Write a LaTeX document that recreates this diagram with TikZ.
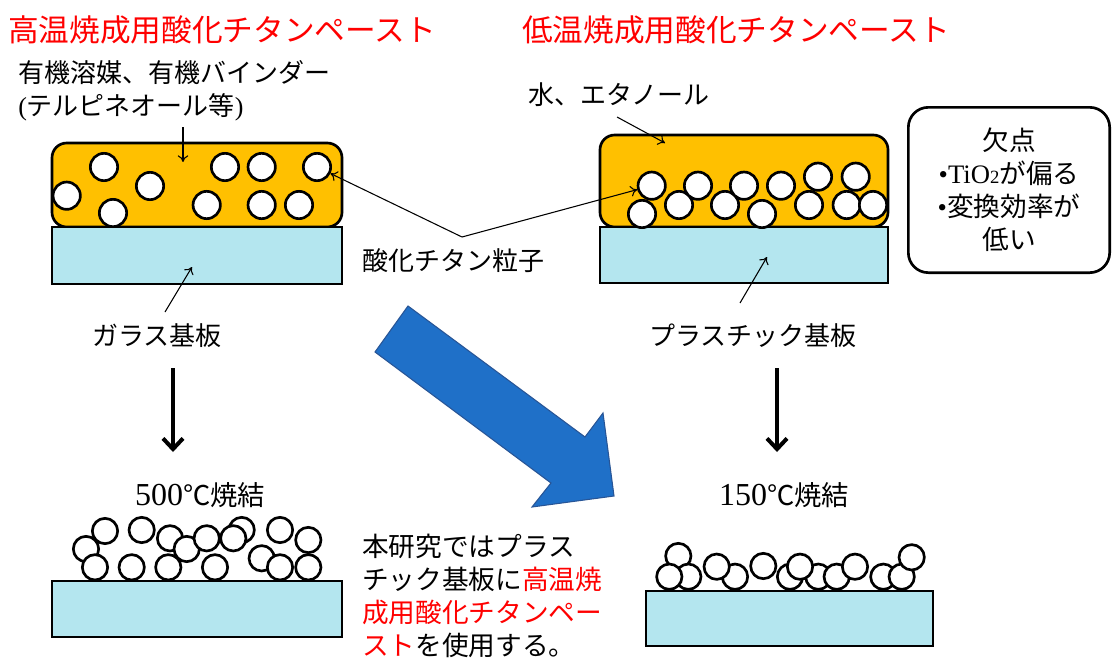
\documentclass[tikz,border=0pt]{standalone}
\usepackage{fontspec}
\setmainfont{Noto Sans CJK JP}
\newfontfamily\latinserif{Liberation Serif}
\usetikzlibrary{arrows.meta}
\definecolor{pastec}{RGB}{255,192,0}
\definecolor{glassc}{RGB}{180,230,239}
\definecolor{bigblue}{RGB}{31,112,200}
\definecolor{bigblueedge}{RGB}{40,85,150}
\begin{document}
\begin{tikzpicture}[x=0.75pt,y=-0.75pt,
  title/.style={font=\fontsize{23}{27}\selectfont, text=red, anchor=west, inner sep=0},
  lbl/.style={font=\fontsize{19.5}{24.75}\selectfont, anchor=west, inner sep=0, align=left},
  pastebox/.style={draw, line width=2pt, fill=pastec, rounded corners=11pt},
  subst/.style={draw, line width=2pt, fill=glassc},
  ball/.style={circle, draw, fill=white, line width=2pt, minimum size=20.5pt, inner sep=0},
  sball/.style={ball, minimum size=19pt},
  ptr/.style={-{To[length=5pt,width=8pt]}, line width=0.8pt},
  downarr/.style={-{Straight Barb[length=8pt,width=15pt]}, line width=3pt}]
\useasboundingbox (0,0) rectangle (1113,660);

% titles
\node[title] (t1) at (8,30) {高温焼成用酸化チタンペースト};
\node[title] (t2) at (522,30) {低温焼成用酸化チタンペースト};

% labels
\node[lbl] (solv) at (18,91) {有機溶媒、有機バインダー\\{\latinserif(}テルピネオール等{\latinserif)}};
\node[lbl] (water) at (528,95) {水、エタノール};
\node[lbl] (tio) at (362,261) {酸化チタン粒子};
\node[lbl] (glass) at (92,336) {ガラス基板};
\node[lbl] (plastic) at (649,336) {プラスチック基板};

% top-left structure
\draw[pastebox] (52,143) rectangle (342,227);
\draw[subst] (52,227) rectangle (342,284);
\foreach \n/\x/\y in {1/66.7/195.7,2/104/167,3/113/213,4/150/186,5/206.7/205,6/225/167,7/261.7/167,8/261.7/205,9/299/205,10/317/167}
  \node[ball] (lc\n) at (\x,\y) {};

% top-right structure
\draw[pastebox] (600,135) rectangle (888,227);
\draw[subst] (600,227) rectangle (888,283);
\foreach \n/\x/\y in {2/642/214,1/651.7/185.7,3/679/205,4/698/185.7,5/725/205,6/744/185.7,7/762/214,8/781/185.7,9/809/205,10/818/176.7,11/846.7/205,12/855.7/176.7,13/873/205}
  \node[ball] (rc\n) at (\x,\y) {};

% pointer arrows
\coordinate (s1a) at (183,127); \coordinate (s1b) at (183,162);
\draw[ptr] (s1a) -- (s1b);
\coordinate (w1a) at (617,117); \coordinate (w1b) at (665,143);
\draw[ptr] (w1a) -- (w1b);
\coordinate (pj) at (462,237);
\draw[ptr] (pj) -- (lc10);
\draw[ptr] (pj) -- (rc1);
\coordinate (g1a) at (165,312); \coordinate (g1b) at (192,267);
\draw[ptr] (g1a) -- (g1b);
\coordinate (p1a) at (740,303); \coordinate (p1b) at (767,257);
\draw[ptr] (p1a) -- (p1b);

% defects box
\node[draw, line width=2pt, rounded corners=15pt, minimum width=151pt, minimum height=124pt,
      align=center, font=\fontsize{20}{24.75}\selectfont, inner sep=0] (defect) at (1009,190)
  {欠点\\{\latinserif•}{\latinserif TiO}{\latinserif\fontsize{14}{14}\selectfont 2}が偏る\\{\latinserif•}変換効率が\\低い};

% down arrows
\coordinate (dl1) at (173,368); \coordinate (dl2) at (173,452);
\draw[downarr] (dl1) -- (dl2);
\coordinate (dr1) at (777,368); \coordinate (dr2) at (777,452);
\draw[downarr] (dr1) -- (dr2);

% big blue arrow
\draw[fill=bigblue, draw=bigblueedge, line width=0.8pt, line join=miter]
  (408,306) -- (585,437) -- (603,413) -- (614,496) -- (532,507) -- (551,483) -- (375,352) -- cycle;

% sintering labels
\node[font=\fontsize{20.5}{25}\selectfont, inner sep=0] (s500) at (200,495) {{\latinserif\fontsize{24}{25}\selectfont 500}℃焼結};
\node[font=\fontsize{20.5}{25}\selectfont, inner sep=0] (s150) at (784,495) {{\latinserif\fontsize{24}{25}\selectfont 150}℃焼結};

% bottom-left
\foreach \n/\x/\y in {1/105/531,2/141.7/530,3/86/549,4/95/567.3,5/131.7/567.3,6/170/538.3,7/186.7/549,8/168.3/567.3,9/206.7/538.3,10/241.7/530,11/233.3/538.3,12/215/567.3,13/261.7/558.3,14/280/530,15/308.3/540,16/280/567.3,17/308.3/567.3}
  \node[sball] (bl\n) at (\x,\y) {};
\draw[subst] (52,581) rectangle (342,637);

% bottom-right
\foreach \n/\x/\y in {1/678.3/556,2/688.3/576.7,3/669.3/576.7,4/735/576.7,5/716.7/566.7,6/790/576.7,7/818.3/576.7,8/763.3/566,9/836.7/576.7,10/800/566.7,11/883.3/576.7,12/855/566.7,13/901.7/576.7,14/911.7/557.3}
  \node[sball] (br\n) at (\x,\y) {};
\draw[subst] (646,591) rectangle (933,646);

% conclusion text
\node[lbl, font=\fontsize{20}{24.75}\selectfont] (concl) at (362,596)
  {本研究ではプラス\\チック基板に{\color{red}高温焼}\\{\color{red}成用酸化チタンペー}\\{\color{red}スト}を使用する。};
\end{tikzpicture}
\end{document}
